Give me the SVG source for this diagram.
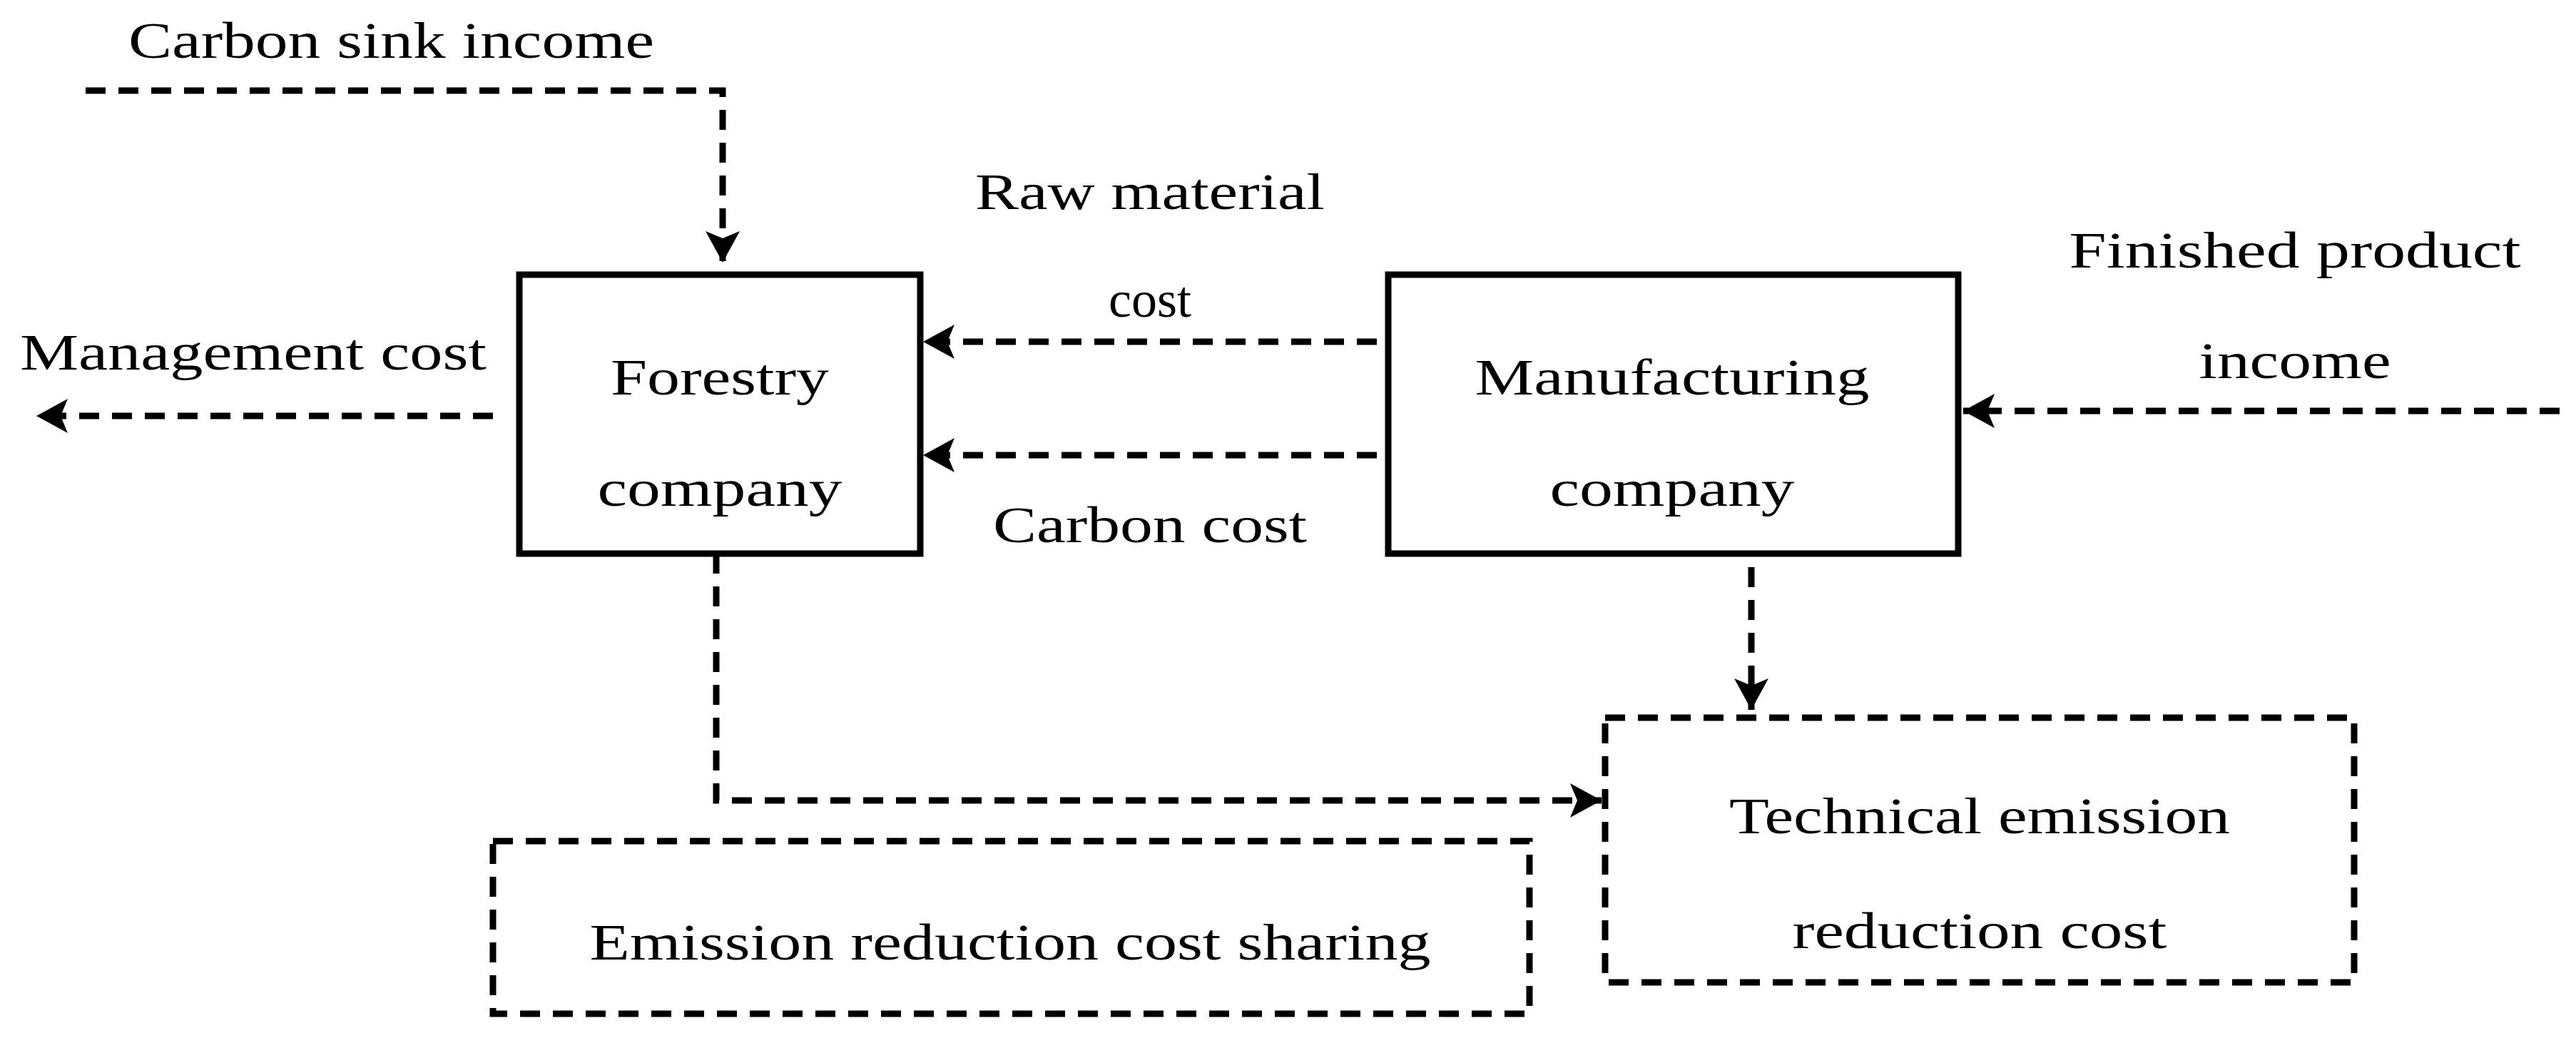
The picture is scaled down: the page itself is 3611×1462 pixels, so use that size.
<svg xmlns="http://www.w3.org/2000/svg" width="3611" height="1462" viewBox="0 0 3611 1462">
<style>
text{font-family:"Liberation Serif","DejaVu Serif",serif;font-size:72px;fill:#000}
.c{text-anchor:middle}
.box{fill:none;stroke:#000;stroke-width:9}
.dbox{fill:none;stroke:#000;stroke-width:9;stroke-dasharray:28 18}
.con{fill:none;stroke:#000;stroke-width:9;stroke-dasharray:28 18}
</style>
<defs>
<marker id="ah" markerUnits="userSpaceOnUse" markerWidth="44" markerHeight="48" viewBox="0 0 44 48" refX="44" refY="24" orient="auto">
<path d="M0,0 L44,24 L0,48 L10,24 Z" fill="#000"/>
</marker>
</defs>
<rect width="3611" height="1462" fill="#fff"/>
<g id="connectors">
<path class="con" d="M120,127 H1013 V368" marker-end="url(#ah)"/>
<path class="con" d="M1930,479 H1294" marker-end="url(#ah)"/>
<path class="con" d="M1930,638 H1294" marker-end="url(#ah)"/>
<path class="con" d="M691,583 H51" marker-end="url(#ah)"/>
<path class="con" d="M3588,576 H2752" marker-end="url(#ah)"/>
<path class="con" d="M1004,776 V1122 H2245" marker-end="url(#ah)"/>
<path class="con" d="M2455,795 V995" marker-end="url(#ah)"/>
<text x="180" y="81" textLength="737" lengthAdjust="spacingAndGlyphs">Carbon sink income</text>
<text class="c" x="1612" y="293" textLength="490" lengthAdjust="spacingAndGlyphs">Raw material</text>
<text class="c" x="1612" y="444">cost</text>
<text class="c" x="1612" y="760" textLength="440" lengthAdjust="spacingAndGlyphs">Carbon cost</text>
<text x="28" y="518" textLength="654" lengthAdjust="spacingAndGlyphs">Management cost</text>
<text class="c" x="3217" y="375" textLength="633" lengthAdjust="spacingAndGlyphs">Finished product</text>
<text class="c" x="3217" y="530" textLength="269" lengthAdjust="spacingAndGlyphs">income</text>
</g>
<g id="forestry">
<rect class="box" x="728" y="385" width="562" height="391"/>
<text class="c" x="1009" y="553" textLength="306" lengthAdjust="spacingAndGlyphs">Forestry</text>
<text class="c" x="1009" y="709" textLength="343" lengthAdjust="spacingAndGlyphs">company</text>
</g>
<g id="manufacturing">
<rect class="box" x="1946" y="385" width="799" height="391"/>
<text class="c" x="2344" y="553" textLength="553" lengthAdjust="spacingAndGlyphs">Manufacturing</text>
<text class="c" x="2344" y="709" textLength="343" lengthAdjust="spacingAndGlyphs">company</text>
</g>
<g id="technical">
<rect class="dbox" x="2250" y="1006" width="1050" height="371"/>
<text class="c" x="2775" y="1168" textLength="702" lengthAdjust="spacingAndGlyphs">Technical emission</text>
<text class="c" x="2775" y="1329" textLength="525" lengthAdjust="spacingAndGlyphs">reduction cost</text>
</g>
<g id="sharing">
<rect class="dbox" x="691" y="1179" width="1453" height="242"/>
<text class="c" x="1416" y="1345" textLength="1179" lengthAdjust="spacingAndGlyphs">Emission reduction cost sharing</text>
</g>
</svg>
